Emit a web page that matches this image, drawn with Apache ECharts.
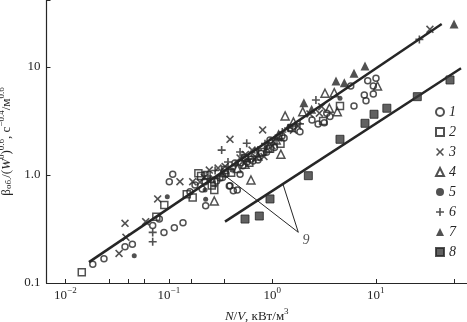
<!DOCTYPE html>
<html>
<head>
<meta charset="utf-8">
<script src="https://cdn.jsdelivr.net/npm/echarts@6/dist/echarts.min.js"></script>
<style>
html,body{margin:0;padding:0;background:#fff;}
#chart{width:467px;height:322px;}
</style>
</head>
<body>
<div id="chart"></div>
<script>
// ---- data ----
const seriesNames = ['1','2','3','4','5','6','7','8'];
const s1 = [[0.0184,0.149],[0.0236,0.168],[0.0377,0.217],[0.0444,0.228],[0.0698,0.340],[0.0897,0.294],[0.113,0.325],[0.137,0.361],[0.0809,0.391],[0.101,0.867],[0.109,1.015],[0.227,0.520],[0.390,0.796],[0.459,0.726],[0.488,1.015],[0.436,1.29],[0.498,1.30],[0.569,1.32],[0.651,1.35],[0.727,1.38],[1.85,2.52],[3.36,3.73],[3.61,3.47],[3.18,3.05],[5.73,6.67],[6.16,4.35],[8.36,7.46],[10.05,7.86],[9.47,6.67],[7.75,5.50],[9.47,5.62],[8.05,4.88],[0.420,0.716],[0.384,0.791],[0.179,0.808],[0.261,0.899],[0.312,0.938],[0.357,1.02],[1.24,2.30],[1.48,2.72],[2.42,3.23],[2.77,2.97],[0.950,2.11],[0.224,0.867],[0.16,0.70],[0.21,0.74],[0.29,0.88],[0.33,0.95],[0.52,1.22],[0.62,1.40],[0.78,1.58],[0.88,1.62],[1.05,1.80],[1.3,2.2]];
const s2 = [[0.0144,0.126],[0.0757,0.411],[0.0904,0.527],[0.149,0.662],[0.205,0.979],[0.275,0.726],[0.275,0.867],[0.193,1.04],[0.232,1.0],[0.349,1.11],[0.545,1.44],[0.795,1.63],[1.55,2.72],[4.51,4.35],[3.10,3.16],[0.17,0.62],[0.26,0.80],[0.40,1.05],[0.60,1.30],[0.95,1.75],[1.2,1.95]];
const s3 = [[0.0377,0.357],[0.0385,0.265],[0.0330,0.188],[0.0597,0.370],[0.0780,0.600],[0.128,0.867],[0.170,0.867],[0.246,1.11],[0.390,2.14],[0.831,1.48],[0.807,2.61],[2.85,3.73],[3.00,4.29],[33.4,22.3],[0.299,1.16],[0.488,1.44],[0.637,1.70],[0.993,1.86],[1.14,2.20],[1.77,2.84],[2.31,3.67],[0.200,0.861],[0.22,0.95],[0.35,1.20],[0.55,1.55],[0.70,1.45],[1.02,2.05],[1.6,2.6]];
const s4 = [[0.275,0.574],[0.622,0.899],[1.21,1.56],[1.33,3.52],[1.97,3.86],[3.56,4.15],[4.25,3.86],[3.97,5.78],[10.4,6.67],[3.23,5.71],[0.908,1.78],[1.09,2.11],[0.727,1.50],[0.545,1.26],[0.33,1.05],[0.46,1.15],[0.68,1.62],[1.15,2.35],[1.6,3.1]];
const s5 = [[0.0463,0.179],[0.0966,0.630],[0.224,0.727],[0.227,0.596],[0.869,1.79],[4.51,5.13],[0.408,1.11],[0.582,1.38]];
const s6 = [[0.0698,0.294],[0.0698,0.241],[0.324,1.70],[2.64,4.95],[26.4,18.0],[0.566,1.97],[0.488,1.63],[0.727,1.70],[1.42,2.72],[1.85,2.97],[0.373,1.32],[0.239,0.979],[0.28,1.10],[0.44,1.25],[0.85,1.95],[1.25,2.5]];
const s7 = [[57.1,25.0],[7.87,10.2],[6.16,8.74],[4.13,7.42],[2.02,4.67],[2.40,4.06],[4.97,7.16]];
const s8 = [[0.545,0.391],[0.749,0.417],[0.950,0.600],[2.23,0.985],[4.51,2.14],[7.87,3.01],[9.62,3.65],[12.8,4.15],[25.2,5.31],[52.2,7.58]];
const upperLine = [[0.0169,0.156],[43.4,25.0]];
const lowerLine = [[0.349,0.370],[66.7,9.72]];
const leaderA = [[0.312,1.073],[1.784,0.2947]];
const leaderB = [[1.260,0.838],[1.784,0.2947]];
const label9 = [[2.117,0.250]];
const xExponents = [-2,-1,0,1];
const yTickLabels = {'-1':'0.1','0':'1.0','1':'10'};
const xMinorTicks = [0.01,0.0266,0.0405,0.0575,0.1,0.166,0.343,1,10,57];
const xRange = [0.006568, 76.2];
const yRange = [0.1, 41.69];

// ---- chart ----
const INK = '#262626';
const SERIF = '"Liberation Serif","DejaVu Serif",serif';
const PLUS = 'path://M4,0H6V4H10V6H6V10H4V6H0V4H4Z';
const CROSS = 'path://M1.4,0L5,3.6L8.6,0L10,1.4L6.4,5L10,8.6L8.6,10L5,6.4L1.4,10L0,8.6L3.6,5L0,1.4Z';
const openStyle = {color:'rgba(255,255,255,0)', borderColor:INK, borderWidth:1.5};
const fillStyle = {color:INK};

function scat(name, data, symbol, size, style) {
  return {name, type:'scatter', data, symbol, symbolSize:size, itemStyle:style, z:3};
}
function powExp(v){ const l = Math.log10(v); const e = Math.round(l); return Math.abs(l-e) < 1e-6 ? e : null; }

const chart = echarts.init(document.getElementById('chart'), null, {renderer:'canvas'});
chart.setOption({
  animation:false,
  backgroundColor:'#fff',
  grid:{left:46.5, right:0, top:0, bottom:39, outerBoundsMode:'none'},
  xAxis:{
    type:'log', min:xRange[0], max:xRange[1],
    axisLine:{lineStyle:{color:INK, width:1.2}},
    axisTick:{inside:true, length:4, lineStyle:{color:INK, width:1}, customValues:xMinorTicks},
    splitLine:{show:false},
    axisLabel:{
      margin:3, color:INK,
      formatter:function(v){ const e = powExp(v); if (e===null || xExponents.indexOf(e)<0) return ''; return '{r|10}{sup|'+(e<0?'−'+(-e):e)+'}'; },
      rich:{r:{fontFamily:SERIF, fontSize:13, color:INK, lineHeight:16, verticalAlign:'bottom'}, sup:{fontFamily:SERIF, fontSize:9, color:INK, lineHeight:16, verticalAlign:'top'}}
    },
    name:'{i|N}{r|/}{i|V}{r|, кВт/м}{sup|3}',
    nameLocation:'middle', nameGap:19,
    nameTextStyle:{rich:{i:{fontFamily:SERIF, fontStyle:'italic', fontSize:13, color:INK, lineHeight:16, verticalAlign:'bottom'}, r:{fontFamily:SERIF, fontSize:13, color:INK, lineHeight:16, verticalAlign:'bottom'}, sup:{fontFamily:SERIF, fontSize:9, color:INK, lineHeight:16, verticalAlign:'top'}}}
  },
  yAxis:{
    type:'log', min:yRange[0], max:yRange[1],
    axisLine:{lineStyle:{color:INK, width:1.2}},
    axisTick:{inside:true, length:4, lineStyle:{color:INK, width:1}},
    splitLine:{show:false},
    axisLabel:{
      margin:6, color:INK, fontFamily:SERIF, fontSize:13,
      formatter:function(v){ const e = powExp(v); if (e===null) return ''; return yTickLabels[String(e)] || ''; }
    },
    name:'{b|β}{sub|об.}{r|/(}{i|W}{sup|0}{r|)}{sup|0.6}{r|, c}{sup|−0.4}{r|/м}{sup|0.6}',
    nameLocation:'middle', nameGap:23,
    nameTextStyle:{rich:{
      b:{fontFamily:SERIF, fontSize:13, color:INK, lineHeight:16, verticalAlign:'bottom'},
      r:{fontFamily:SERIF, fontSize:13, color:INK, lineHeight:16, verticalAlign:'bottom'},
      i:{fontFamily:SERIF, fontStyle:'italic', fontSize:13, color:INK, lineHeight:16, verticalAlign:'bottom'},
      sub:{fontFamily:SERIF, fontSize:9, color:INK, lineHeight:16, verticalAlign:'bottom'},
      sup:{fontFamily:SERIF, fontSize:9, color:INK, lineHeight:16, verticalAlign:'top'}
    }}
  },
  legend:{
    data:seriesNames, orient:'vertical', left:430, top:100, padding:5,
    itemWidth:8, itemHeight:8, itemGap:6,
    textStyle:{fontFamily:SERIF, fontStyle:'italic', fontSize:14, color:INK, lineHeight:14},
    selectedMode:false
  },
  series:[
    {name:'fitUpper', type:'line', data:upperLine, showSymbol:false, lineStyle:{color:INK, width:2.5}, z:1},
    {name:'fitLower', type:'line', data:lowerLine, showSymbol:false, lineStyle:{color:INK, width:2.5}, z:1},
    {name:'leaderA', type:'line', data:leaderA, showSymbol:false, lineStyle:{color:INK, width:1}, z:1},
    {name:'leaderB', type:'line', data:leaderB, showSymbol:false, lineStyle:{color:INK, width:1}, z:1},
    {name:'label9', type:'scatter', data:label9, symbolSize:1, itemStyle:{color:'rgba(0,0,0,0)'},
      label:{show:true, position:'inside', formatter:'9', fontFamily:SERIF, fontStyle:'italic', fontSize:14, color:INK}},
    scat('1', s1, 'circle', 6, openStyle),
    scat('2', s2, 'rect', 7, openStyle),
    scat('3', s3, CROSS, 8, fillStyle),
    scat('4', s4, 'triangle', 8, openStyle),
    scat('5', s5, 'circle', 5, fillStyle),
    scat('6', s6, PLUS, 8, fillStyle),
    scat('7', s7, 'triangle', 9, fillStyle),
    scat('8', s8, 'rect', 8, {color:'#3a3a3a', borderColor:INK, borderWidth:1})
  ]
});
</script>
</body>
</html>
